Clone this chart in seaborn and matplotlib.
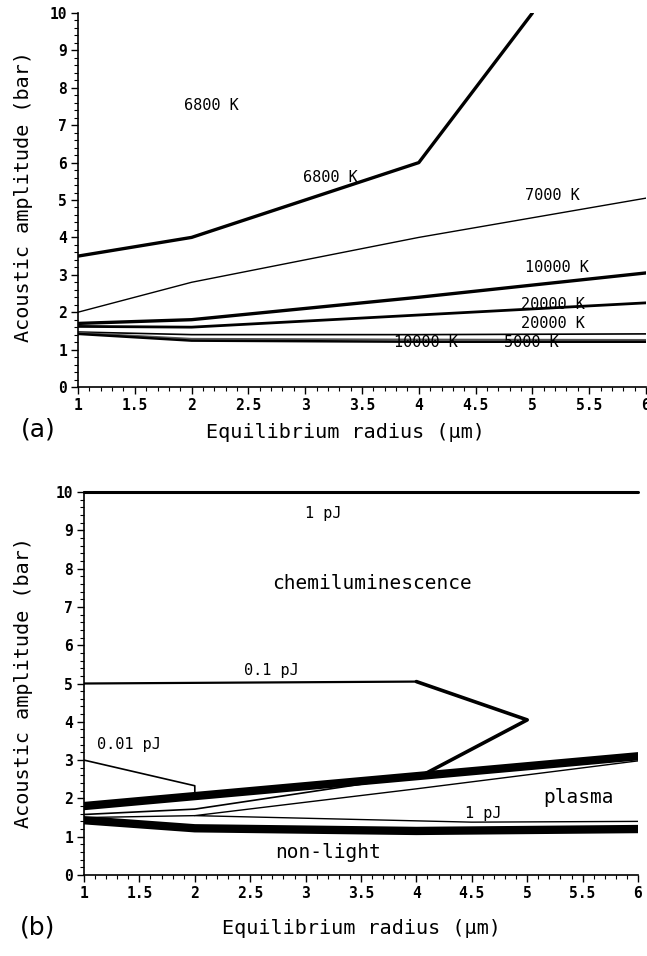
import matplotlib
matplotlib.use('Agg')
import matplotlib.pyplot as plt
from matplotlib import ticker
import seaborn as sns

# ---------------- panel (a): temperature curves ----------------
x_6800 = [1, 2, 4, 5]
y_6800 = [3.5, 4.0, 6.0, 10.0]
x_7000 = [1, 2, 4, 6]
y_7000 = [2.0, 2.8, 4.0, 5.05]
x_10000 = [1, 2, 4, 6]
y_10000 = [1.7, 1.8, 2.4, 3.05]
x_20000 = [1, 2, 6]
y_20000 = [1.62, 1.6, 2.25]
x_20000b = [1, 2, 4, 6]
y_20000b = [1.47, 1.4, 1.4, 1.42]
x_10000b = [1, 2, 4, 6]
y_10000b = [1.42, 1.24, 1.21, 1.21]
x_5000 = [1, 2, 4, 6]
y_5000 = [1.45, 1.29, 1.27, 1.26]

a_labels = ['6800 K', '6800 K', '7000 K', '10000 K', '20000 K', '20000 K', '10000 K', '5000 K']
a_lab_x = [2.17, 3.22, 5.18, 5.22, 5.18, 5.18, 4.06, 4.99]
a_lab_y = [7.53, 5.6, 5.13, 3.2, 2.2, 1.7, 1.2, 1.2]

# ---------------- panel (b): energy regions ----------------
x_top = [1, 6]
y_top = [10, 10]
x_01 = [1, 4, 5, 4.05]
y_01 = [5.0, 5.05, 4.05, 2.6]
x_001 = [1, 2, 2]
y_001 = [3.0, 2.33, 2.07]
x_bound = [1, 6]
y_bound = [1.8, 3.1]
x_thin = [1, 2, 3.8]
y_thin = [1.58, 1.72, 2.5]
x_wedge = [6, 4.5, 2, 4, 6]
y_wedge = [1.4, 1.38, 1.55, 2.25, 2.98]
x_low = [1, 2]
y_low = [1.5, 1.55]
x_nl = [1, 2, 4, 6]
y_nl = [1.43, 1.22, 1.15, 1.2]

b_labels = ['1 pJ', 'chemiluminescence', '0.1 pJ', '0.01 pJ', 'plasma', '1 pJ', 'non-light']
b_lab_x = [3.16, 3.6, 2.69, 1.41, 5.46, 4.6, 3.2]
b_lab_y = [9.45, 7.6, 5.33, 3.42, 2.03, 1.6, 0.6]
b_lab_size = [11, 14, 11, 11, 14, 11, 14]

sns.set_theme(style='ticks')
plt.rcParams['font.family'] = ['DejaVu Sans Mono', 'DejaVu Sans']
plt.rcParams['text.color'] = 'black'
plt.rcParams['xtick.color'] = 'black'
plt.rcParams['ytick.color'] = 'black'
plt.rcParams['xtick.labelcolor'] = 'black'
plt.rcParams['ytick.labelcolor'] = 'black'


def draw(ax, xs, ys, lw, color='black', **kw):
    sns.lineplot(x=xs, y=ys, ax=ax, color=color, linewidth=lw,
                 sort=False, estimator=None, **kw)


def style_axis(ax):
    ax.set_xlim(1, 6)
    ax.set_ylim(0, 10)
    sns.despine(ax=ax)
    for s in ['left', 'bottom']:
        ax.spines[s].set_color('black')
        ax.spines[s].set_linewidth(1.2)
    ax.xaxis.set_major_locator(ticker.MultipleLocator(0.5))
    ax.xaxis.set_minor_locator(ticker.MultipleLocator(0.1))
    ax.yaxis.set_major_locator(ticker.MultipleLocator(1))
    ax.yaxis.set_minor_locator(ticker.MultipleLocator(0.2))
    ax.xaxis.set_major_formatter(ticker.FuncFormatter(lambda v, p: '%g' % v))
    ax.tick_params(which='major', direction='out', length=5, width=1,
                   color='black', labelcolor='black', labelsize=10.5, pad=3)
    ax.tick_params(which='minor', direction='out', length=3, width=0.8, color='black')
    for lab in ax.get_xticklabels() + ax.get_yticklabels():
        lab.set_fontweight('bold')
    ax.set_xlabel('')
    ax.set_ylabel('')
    ax.set_facecolor('white')


fig = plt.figure(figsize=(6.47, 9.56), dpi=100)
fig.patch.set_facecolor('white')

# panel (a)
ax_a = fig.add_axes([78 / 647, 1 - 387 / 956, 568 / 647, 374 / 956])
draw(ax_a, x_6800, y_6800, 2.4)
draw(ax_a, x_7000, y_7000, 1.0)
draw(ax_a, x_10000, y_10000, 2.4)
draw(ax_a, x_20000, y_20000, 2.0)
draw(ax_a, x_20000b, y_20000b, 1.2)
draw(ax_a, x_5000, y_5000, 1.3, color='#555555')
draw(ax_a, x_10000b, y_10000b, 1.8)
for t, xx, yy in zip(a_labels, a_lab_x, a_lab_y):
    ax_a.text(xx, yy, t, ha='center', va='center', fontsize=11, color='black')
style_axis(ax_a)

# panel (b)
ax_b = fig.add_axes([84 / 647, 1 - 875 / 956, 554 / 647, 383 / 956])
draw(ax_b, x_top, y_top, 2.2, clip_on=False)
draw(ax_b, x_01[:2], y_01[:2], 1.6)
draw(ax_b, x_01[1:], y_01[1:], 2.6)
draw(ax_b, x_001, y_001, 1.2)
draw(ax_b, x_thin, y_thin, 1.2)
draw(ax_b, x_wedge, y_wedge, 1.0)
draw(ax_b, x_low, y_low, 1.0)
draw(ax_b, x_bound, y_bound, 6.0)
draw(ax_b, x_nl, y_nl, 6.0)
for t, xx, yy, fs in zip(b_labels, b_lab_x, b_lab_y, b_lab_size):
    ax_b.text(xx, yy, t, ha='center', va='center', fontsize=fs, color='black')
style_axis(ax_b)

# axis titles and panel tags
fig.text(345 / 647, 1 - 432 / 956, 'Equilibrium radius (\u03bcm)', ha='center', va='center', fontsize=14.5)
fig.text(361 / 647, 1 - 928 / 956, 'Equilibrium radius (\u03bcm)', ha='center', va='center', fontsize=14.5)
fig.text(24 / 647, 1 - 196 / 956, 'Acoustic amplitude (bar)', rotation=90, ha='center', va='center', fontsize=14.5)
fig.text(24 / 647, 1 - 683 / 956, 'Acoustic amplitude (bar)', rotation=90, ha='center', va='center', fontsize=14.5)
fig.text(38 / 647, 1 - 430 / 956, '(a)', ha='center', va='center', fontsize=18, family='DejaVu Sans')
fig.text(38 / 647, 1 - 928 / 956, '(b)', ha='center', va='center', fontsize=18, family='DejaVu Sans')

fig.savefig('out.png', dpi=100, facecolor='white')
